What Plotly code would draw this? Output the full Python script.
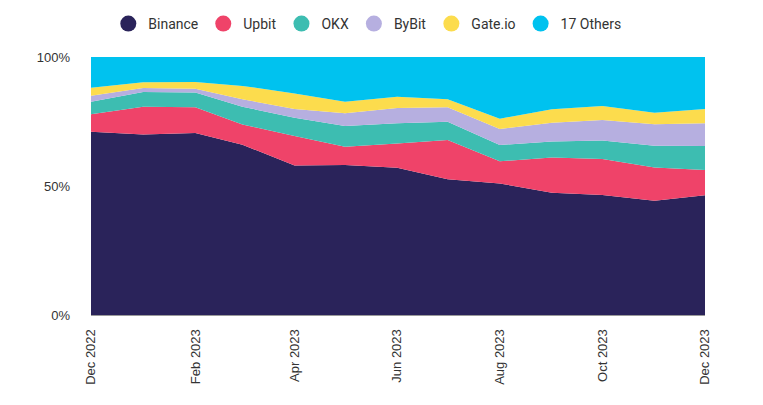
import plotly.graph_objects as go

months = ["2022-12-01", "2023-01-01", "2023-02-01", "2023-03-01", "2023-04-01", "2023-05-01",
          "2023-06-01", "2023-07-01", "2023-08-01", "2023-09-01", "2023-10-01", "2023-11-01", "2023-12-01"]

binance = [71.0, 70.0, 70.5, 66.0, 57.9, 58.1, 57.1, 52.6, 51.0, 47.4, 46.5, 44.3, 46.4]
upbit = [6.8, 10.7, 10.0, 7.8, 11.5, 7.1, 9.4, 15.2, 8.6, 13.6, 14.0, 12.9, 9.8]
okx = [4.9, 5.7, 5.7, 6.9, 7.1, 8.1, 7.8, 7.1, 6.3, 6.2, 7.1, 8.4, 9.3]
bybit = [2.3, 1.6, 1.5, 2.9, 3.3, 4.9, 5.9, 5.6, 6.2, 7.3, 8.0, 8.3, 8.8]
gateio = [3.1, 2.2, 2.6, 5.2, 6.1, 4.5, 4.4, 3.1, 4.0, 5.2, 5.4, 4.5, 5.5]
others = [11.9, 9.8, 9.7, 11.2, 14.1, 17.3, 15.4, 16.4, 23.9, 20.3, 19.0, 21.6, 20.2]

series_names = ["Binance", "Upbit", "OKX", "ByBit", "Gate.io", "17 Others"]
series_values = [binance, upbit, okx, bybit, gateio, others]
colors = ["#2a235a", "#ef4369", "#3dbdb1", "#b6afe0", "#fcdc4d", "#00c2ef"]

tick_dates = months[::2]
tick_labels = ["Dec 2022", "Feb 2023", "Apr 2023", "Jun 2023", "Aug 2023", "Oct 2023", "Dec 2023"]

fig = go.Figure()
for name, vals, col in zip(series_names, series_values, colors):
    fig.add_trace(go.Scatter(
        x=months, y=vals, name=name, mode="lines", stackgroup="one",
        line=dict(width=0, color=col), fillcolor=col, showlegend=False,
        hovertemplate="%{y:.1f}%<extra>" + name + "</extra>"))
# legend entries with circular markers
for name, col in zip(series_names, colors):
    fig.add_trace(go.Scatter(
        x=[None], y=[None], name=name, mode="markers",
        marker=dict(symbol="circle", size=18, color=col), showlegend=True))

fig.update_layout(
    width=763, height=405,
    margin=dict(l=83, r=66, t=49, b=98, autoexpand=False),
    paper_bgcolor="white", plot_bgcolor="white",
    font=dict(family="Liberation Sans, Arial, sans-serif", size=13, color="#333333"),
    legend=dict(orientation="h", traceorder="normal",
                x=0.45, xanchor="center", y=1.0, yanchor="top", yref="container",
                font=dict(family="Roboto, sans-serif", size=14, color="#333333"),
                itemwidth=30, tracegroupgap=0),
    showlegend=True,
)
fig.update_xaxes(
    type="date", range=["2022-12-01", "2023-12-01"],
    tickvals=tick_dates, ticktext=tick_labels,
    tickangle=-90, showgrid=False, zeroline=False,
    showline=True, linecolor="#9a9a9a", linewidth=1,
    ticks="", ticklabelstandoff=8, tickfont=dict(size=13, color="#333333"))
fig.update_yaxes(
    range=[0, 100], tickvals=[0, 50, 100], ticktext=["0%", "50%", "100%"],
    showgrid=False, zeroline=False, showline=False, ticks="",
    ticklabelstandoff=20, tickfont=dict(size=13, color="#333333"))

fig.write_html("out.html")
